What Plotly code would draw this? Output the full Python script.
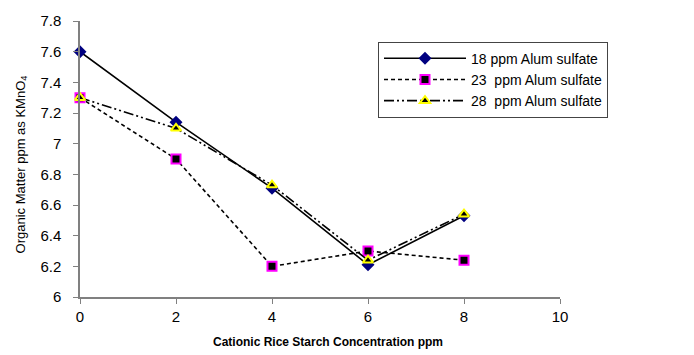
import plotly.graph_objects as go

x = [0, 2, 4, 6, 8]
s18 = [7.60, 7.14, 6.71, 6.21, 6.53]
s23 = [7.30, 6.90, 6.20, 6.30, 6.24]
s28 = [7.30, 7.10, 6.73, 6.24, 6.54]
names = ["18 ppm Alum sulfate", "23  ppm Alum sulfate", "28  ppm Alum sulfate"]
x_title = "Cationic Rice Starch Concentration ppm"
y_title = "Organic Matter ppm as KMnO<sub>4</sub>"

W, H = 694, 355
L, R, T, B = 80, 134, 16, 58
ph = H - T - B
pw = W - L - R

fig = go.Figure()
fig.add_trace(go.Scatter(x=x, y=s18, name=names[0], mode="lines+markers",
                         line=dict(color="black", width=1.6),
                         marker=dict(symbol="diamond", size=10, color="#000080", line=dict(width=0))))
fig.add_trace(go.Scatter(x=x, y=s23, name=names[1], mode="lines+markers",
                         line=dict(color="black", width=1.6, dash="4px,3px"),
                         marker=dict(symbol="square", size=9, color="black", line=dict(color="#FF00FF", width=2))))
fig.add_trace(go.Scatter(x=x, y=s28, name=names[2], mode="lines+markers",
                         line=dict(color="black", width=1.6, dash="10px,3px,2px,3px,2px,3px"),
                         marker=dict(symbol="triangle-up", size=9, color="black", line=dict(color="#FFFF00", width=2))))

fig.update_layout(
    width=W, height=H,
    margin=dict(l=L, r=R, t=T, b=B),
    paper_bgcolor="white", plot_bgcolor="white",
    font=dict(family="Liberation Sans, Arial", color="black"),
    showlegend=True,
    legend=dict(x=(378 - L) / pw, y=(H - B - 37) / ph, xref="paper", yref="paper",
                xanchor="left", yanchor="top",
                bordercolor="#444", borderwidth=1, bgcolor="white",
                font=dict(size=14), tracegroupgap=0, itemwidth=82),
    xaxis=dict(range=[0, 10], dtick=2, tick0=0, showgrid=False, zeroline=False,
               showline=True, linecolor="#808080", linewidth=1.5,
               ticks="outside", ticklen=5, tickcolor="#808080",
               tickfont=dict(size=15)),
    yaxis=dict(range=[6, 7.8], dtick=0.2, tick0=6, showgrid=False, zeroline=False,
               showline=True, linecolor="#808080", linewidth=1.5,
               ticks="outside", ticklen=5, tickcolor="#808080",
               ticklabelstandoff=9,
               tickfont=dict(size=15)),
    annotations=[
        dict(text="<b>" + x_title + "</b>", xref="paper", yref="paper",
             x=(328 - L) / pw, y=-(343 - (H - B)) / ph, xanchor="center", yanchor="middle",
             showarrow=False, font=dict(size=12)),
        dict(text=y_title, xref="paper", yref="paper",
             x=-(L - 21) / pw, y=(H - B - 162) / ph, xanchor="center", yanchor="middle",
             textangle=-90, showarrow=False, font=dict(size=13)),
    ],
)
for tr in fig.data:
    tr.cliponaxis = False

fig.write_html("out.html")
